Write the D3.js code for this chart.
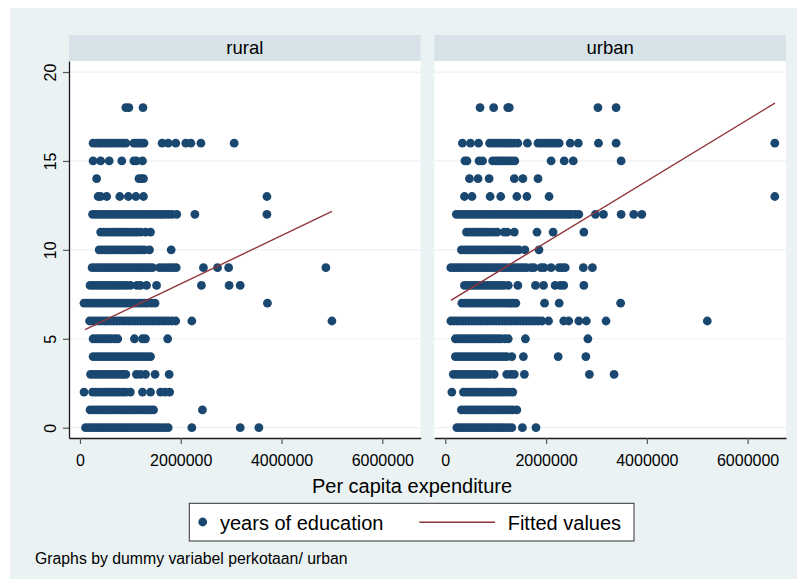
<!DOCTYPE html>
<html>
<head>
<meta charset="utf-8">
<script src="https://cdn.jsdelivr.net/npm/d3@7/dist/d3.min.js"></script>
<style>
  html, body { margin: 0; padding: 0; background: #ffffff; }
  svg { display: block; }
  text { font-family: "Liberation Sans", Arial, Helvetica, sans-serif; fill: #000; }
</style>
</head>
<body>
<svg id="chart" width="802" height="587"></svg>
<script>
// Panel titles (by area type)
const panelNames = ["rural", "urban"];

// Per capita expenditure (thousand rupiah) of each respondent, grouped by years of education
const ruralRows = [
  [0,  [110,170,230,290,350,410,470,530,590,650,710,770,830,890,950,1010,1070,1130,1190,1250,1310,1370,1430,1490,1550,1620,1690,1750,2220,3180,3550]],
  [1,  [200,260,320,380,440,500,560,620,680,740,800,860,920,980,1040,1100,1160,1220,1280,1340,1400,1460,2430]],
  [2,  [80,250,310,370,430,490,550,610,670,730,790,850,910,1000,1240,1400,1600,1690,1780]],
  [3,  [210,270,330,390,450,510,570,630,690,750,810,860,910,1120,1200,1300,1490,1770]],
  [4,  [260,320,380,440,500,560,620,680,740,800,860,920,980,1040,1100,1160,1220,1280,1340,1400]],
  [5,  [260,320,380,440,500,560,620,690,750,1080,1240,1300,1740]],
  [6,  [190,250,310,370,430,490,550,610,670,730,790,850,910,970,1030,1090,1150,1210,1270,1330,1390,1450,1510,1570,1630,1690,1750,1820,1900,2220,5000]],
  [7,  [80,140,200,260,320,380,440,500,560,620,680,740,800,860,920,980,1040,1100,1160,1220,1280,1340,1420,1490,3720]],
  [8,  [200,260,320,380,440,500,560,620,680,740,800,860,930,1000,1130,1200,1320,1520,2410,2960,3180]],
  [9,  [240,300,360,420,480,540,600,660,720,780,840,900,960,1020,1080,1140,1200,1260,1320,1380,1440,1580,1650,1720,1790,1850,1910,2450,2730,2950,4880]],
  [10, [380,440,500,560,620,680,740,800,860,920,980,1040,1100,1160,1220,1280,1380,1810]],
  [11, [410,470,530,590,650,710,770,830,890,950,1010,1070,1130,1200,1300,1400]],
  [12, [250,310,370,430,490,550,610,670,730,790,850,910,970,1030,1090,1150,1210,1270,1330,1390,1450,1510,1570,1630,1690,1760,1830,1920,2280,3710]],
  [13, [360,410,530,790,960,1110,1260,3710]],
  [14, [330,1170,1220,1260]],
  [15, [260,410,580,830,1070,1120,1240]],
  [16, [260,320,380,430,490,550,610,670,730,790,850,910,1070,1120,1170,1220,1270,1630,1750,1900,2100,2200,2400,3060]],
  [18, [910,970,1250]]
];

const urbanRows = [
  [0,  [230,290,350,410,470,530,590,650,710,770,830,890,950,1010,1070,1130,1190,1260,1320,1530,1800]],
  [1,  [320,380,440,500,560,620,680,740,800,860,920,980,1040,1100,1160,1220,1280,1340,1420]],
  [2,  [130,360,420,480,540,600,660,720,780,840,900,960,1020,1080,1140,1200,1270,1340]],
  [3,  [160,220,280,340,400,460,520,580,640,700,760,820,880,970,1220,1300,1370,1570,2860,3350]],
  [4,  [200,260,320,380,440,500,560,620,680,740,800,860,920,980,1040,1100,1160,1220,1320,1550,2240,2790]],
  [5,  [200,260,320,380,440,500,560,620,680,740,800,860,920,980,1040,1100,1180,1250,1590,2830]],
  [6,  [110,170,230,290,350,410,470,530,590,650,710,770,830,890,950,1010,1070,1130,1190,1250,1310,1370,1430,1490,1550,1610,1670,1730,1790,1850,1920,2050,2350,2450,2650,2800,3190,5200]],
  [7,  [330,390,450,510,570,630,690,750,810,870,930,990,1050,1110,1170,1230,1290,1340,1400,1970,2260,3480]],
  [8,  [380,440,500,560,620,680,740,800,860,920,980,1040,1100,1160,1250,1440,1790,1950,2180,2280,2350,2750]],
  [9,  [110,170,230,290,350,410,470,530,590,650,710,770,830,890,950,1010,1070,1130,1190,1250,1310,1370,1430,1490,1550,1610,1700,1760,1900,1960,2100,2260,2320,2380,2740,2920]],
  [10, [320,380,440,500,560,620,680,740,800,860,920,980,1040,1100,1160,1220,1280,1340,1400,1460,1580,1860]],
  [11, [420,480,540,600,660,720,780,840,900,970,1030,1170,1230,1370,1820,2140,2750]],
  [12, [220,280,340,400,460,520,580,640,700,760,820,880,940,1000,1060,1120,1180,1240,1300,1360,1420,1480,1540,1600,1660,1720,1780,1840,1900,1960,2020,2080,2140,2200,2260,2320,2380,2440,2500,2580,2650,2980,3140,3490,3740,3900]],
  [13, [380,530,890,1100,1420,1620,2060,6540]],
  [14, [480,650,870,1370,1540,1840]],
  [15, [390,430,670,740,940,1000,1050,1100,1150,1200,1260,1320,1380,2100,2360,2540,3490]],
  [16, [340,500,660,880,940,1000,1060,1120,1180,1240,1300,1360,1440,1630,1840,1900,1960,2020,2080,2140,2200,2260,2480,2640,3040,3390,6540]],
  [18, [690,960,1240,1270,3030,3390]]
];

// Linear fit (fitted values) at the ends of each panel's expenditure range
const ruralFitX = [100000, 5000000];
const ruralFitY = [5.51, 12.16];
const urbanFitX = [110000, 6540000];
const urbanFitY = [7.16, 18.25];

// Axis ticks
const xTicks = [0, 2000000, 4000000, 6000000];
const yTicks = [0, 5, 10, 15, 20];

// Axis / legend / note texts
const xTitle = "Per capita expenditure";
const legendLabels = ["years of education", "Fitted values"];
const noteText = "Graphs by dummy variabel perkotaan/ urban";

const UNIT = 1000; // expenditure rows are stored in thousand rupiah

// ---- styling ----
const COLORS = {
  bg: "#eaf2f3",
  header: "#d7e3e8",
  grid: "#eaf2f3",
  marker: "#1a476f",
  fit: "#90353b",
  axis: "#1a1a1a"
};
const R = 4.4;

const svg = d3.select("#chart");
svg.append("rect").attr("width", 802).attr("height", 587).attr("fill", "#ffffff");
svg.append("rect").attr("x", 10).attr("y", 8).attr("width", 787).attr("height", 571).attr("fill", COLORS.bg);

const plotTop = 61, plotBottom = 438, headerTop = 35;
const xDomain = [-218000, 6762000];
const yDomain = [-0.58, 20.62];

const panels = [
  { name: panelNames[0], rows: ruralRows, fitX: ruralFitX, fitY: ruralFitY, left: 69, right: 420.7, yAxis: true },
  { name: panelNames[1], rows: urbanRows, fitX: urbanFitX, fitY: urbanFitY, left: 434.3, right: 786, yAxis: false }
];

const y = d3.scaleLinear().domain(yDomain).range([plotBottom, plotTop]);

panels.forEach(p => {
  const g = svg.append("g");
  const x = d3.scaleLinear().domain(xDomain).range([p.left, p.right]);
  const w = p.right - p.left;

  // strip header
  g.append("rect").attr("x", p.left).attr("y", headerTop).attr("width", w).attr("height", plotTop - headerTop)
    .attr("fill", COLORS.header);
  g.append("text").attr("x", p.left + w / 2).attr("y", 54).attr("text-anchor", "middle")
    .attr("font-size", "18.5px").text(p.name);

  // plot region
  g.append("rect").attr("x", p.left).attr("y", plotTop).attr("width", w).attr("height", plotBottom - plotTop)
    .attr("fill", "#ffffff");

  // horizontal grid
  g.append("g").selectAll("line").data(yTicks).join("line")
    .attr("x1", p.left).attr("x2", p.right)
    .attr("y1", d => y(d)).attr("y2", d => y(d))
    .attr("stroke", COLORS.grid).attr("stroke-width", 1.2);

  // scatter points
  const pts = p.rows.flatMap(([yrs, xs]) => xs.map(v => [v * UNIT, yrs]));
  g.append("g").selectAll("circle").data(pts).join("circle")
    .attr("cx", d => x(d[0])).attr("cy", d => y(d[1])).attr("r", R)
    .attr("fill", COLORS.marker);

  // fitted line
  const fit = p.fitX.map((v, i) => [v, p.fitY[i]]);
  g.append("path").datum(fit)
    .attr("d", d3.line().x(d => x(d[0])).y(d => y(d[1])))
    .attr("fill", "none").attr("stroke", COLORS.fit).attr("stroke-width", 1.4);

  // x axis
  const xa = g.append("g").attr("transform", `translate(0,${plotBottom})`)
    .call(d3.axisBottom(x).tickValues(xTicks).tickFormat(d3.format("d")).tickSize(6).tickSizeOuter(0));
  xa.select(".domain").attr("stroke", COLORS.axis).attr("stroke-width", 1.3);
  xa.selectAll(".tick line").attr("stroke", "#555").attr("stroke-width", 1.2);
  xa.selectAll(".tick text").attr("y", 28).attr("dy", 0).attr("font-size", "16px")
    .attr("font-family", "Liberation Sans, Arial, sans-serif").attr("fill", "#000");

  // y axis (left panel only)
  if (p.yAxis) {
    const ya = g.append("g").attr("transform", `translate(${p.left},0)`)
      .call(d3.axisLeft(y).tickValues(yTicks).tickSize(6).tickSizeOuter(0));
    ya.select(".domain").attr("stroke", COLORS.axis).attr("stroke-width", 1.3);
    ya.selectAll(".tick line").attr("stroke", "#555").attr("stroke-width", 1.2);
    ya.selectAll(".tick text")
      .attr("transform", "rotate(-90)")
      .attr("x", 0).attr("y", -13.5).attr("dy", 0)
      .attr("text-anchor", "middle")
      .attr("font-size", "16px")
      .attr("font-family", "Liberation Sans, Arial, sans-serif").attr("fill", "#000");
  }
});

// x axis title
svg.append("text").attr("x", 412).attr("y", 493).attr("text-anchor", "middle")
  .attr("font-size", "20px").text(xTitle);

// legend
const lg = svg.append("g");
lg.append("rect").attr("x", 189.3).attr("y", 503.3).attr("width", 444.7).attr("height", 37.7)
  .attr("fill", "#ffffff").attr("stroke", "#333").attr("stroke-width", 1);
lg.append("circle").attr("cx", 202.7).attr("cy", 522).attr("r", R).attr("fill", COLORS.marker);
lg.append("text").attr("x", 220).attr("y", 529.5).attr("font-size", "20px").text(legendLabels[0]);
lg.append("line").attr("x1", 419.3).attr("x2", 495).attr("y1", 522.3).attr("y2", 522.3)
  .attr("stroke", COLORS.fit).attr("stroke-width", 1.6);
lg.append("text").attr("x", 507.7).attr("y", 529.5).attr("font-size", "20px").text(legendLabels[1]);

// note
svg.append("text").attr("x", 35).attr("y", 564).attr("font-size", "15.8px").text(noteText);
</script>
</body>
</html>
